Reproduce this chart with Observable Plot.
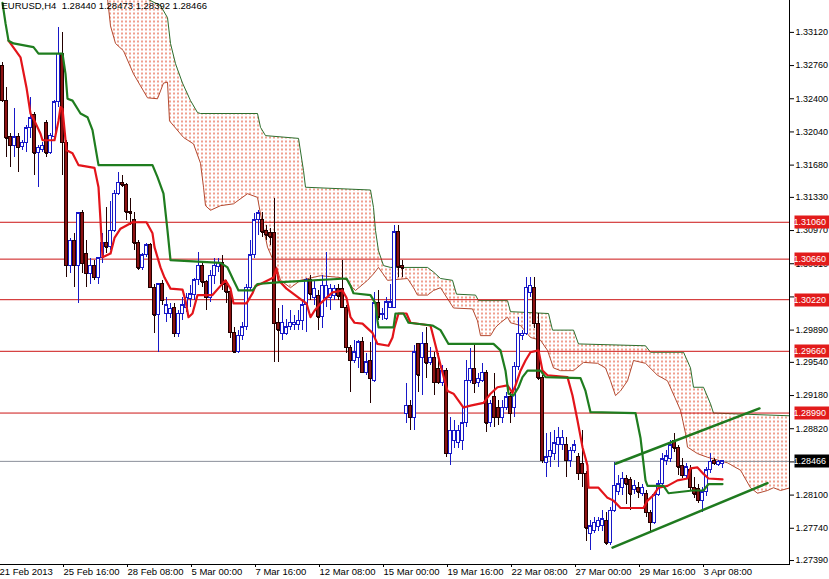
<!DOCTYPE html>
<html><head><meta charset="utf-8">
<script src="https://cdn.jsdelivr.net/npm/d3@7"></script>
<script src="https://cdn.jsdelivr.net/npm/@observablehq/plot@0.6"></script>
<style>html,body{margin:0;padding:0;background:#fff}svg{display:block}</style>
</head><body><div id="chart"></div>
<script>
// ---- EURUSD H4 OHLC, bars numbered from 1 (4-hour bars, first label "21 Feb 2013" = bar 0)
const open = [
1.3276,1.3238,1.3198,1.3189,1.3198,1.3188,1.3192,1.3208,1.3222,1.3181,
1.3184,1.3214,1.3181,1.3198,1.3236,1.3289,1.3192,1.3059,1.3086,1.3059,
1.3116,1.3072,1.3050,1.3059,1.3046,1.3067,1.3083,1.3079,1.3097,1.3137,
1.3149,1.3146,1.3117,1.3108,1.3083,1.3056,1.3070,1.3081,1.3035,1.3005,
1.3039,1.3007,1.3007,1.3013,1.2985,1.3007,1.3013,1.3023,1.3027,1.3043,
1.3059,1.3041,1.3024,1.3048,1.3057,1.3062,1.3039,1.3030,1.2986,1.2965,
1.2983,1.2992,1.3035,1.3070,1.3108,1.3108,1.3097,1.3094,1.3094,1.2997,
1.2985,1.2985,1.2992,1.2994,1.2994,1.2999,1.3016,1.3043,1.3024,1.3026,
1.3003,1.3024,1.3024,1.3026,1.3034,1.3034,1.3013,1.2970,1.2956,1.2959,
1.2976,1.2943,1.2956,1.2934,1.3018,1.3005,1.3001,1.3013,1.3013,1.3095,
1.3059,1.2898,1.2907,1.2894,1.2974,1.2959,1.2974,1.2953,1.2959,1.2947,
1.2932,1.2945,1.2855,1.2869,1.2867,1.2869,1.2888,1.2934,1.2947,1.2932,
1.2934,1.2943,1.2888,1.2916,1.2905,1.2894,1.2904,1.2916,1.2904,1.2949,
1.2983,1.2985,1.3029,1.3035,1.2996,1.2937,1.2845,1.2851,1.2855,1.2864,
1.2864,1.2864,1.2847,1.2858,1.2851,1.2844,1.2833,1.2768,1.2771,1.2775,
1.2776,1.2782,1.2758,1.2793,1.2813,1.2818,1.2828,1.2826,1.2815,1.2818,
1.2811,1.2811,1.2791,1.2780,1.2810,1.2822,1.2847,1.2849,1.2869,1.2861,
1.2842,1.2831,1.2837,1.2818,1.2817,1.2804,1.2813,1.2837,1.2847,1.2843,
1.28440];
const high = [
1.3279,1.3252,1.3202,1.3229,1.3202,1.3195,1.3211,1.3241,1.3225,1.3189,
1.3192,1.3216,1.3202,1.3238,1.3317,1.3312,1.3195,1.3088,1.3094,1.3117,
1.3119,1.3086,1.3067,1.3065,1.3068,1.3094,1.3122,1.3128,1.3141,1.3160,
1.3157,1.3148,1.3132,1.3117,1.3086,1.3072,1.3083,1.3083,1.3039,1.3040,
1.3043,1.3024,1.3018,1.3018,1.3010,1.3024,1.3029,1.3037,1.3045,1.3073,
1.3062,1.3043,1.3054,1.3067,1.3067,1.3070,1.3043,1.3034,1.2992,1.2989,
1.2997,1.3039,1.3086,1.3116,1.3119,1.3117,1.3102,1.3099,1.3132,1.3012,
1.3016,1.3001,1.3010,1.3005,1.3010,1.3021,1.3045,1.3048,1.3043,1.3032,
1.3048,1.3073,1.3039,1.3037,1.3039,1.3065,1.3016,1.2972,1.2978,1.2978,
1.2981,1.2964,1.2976,1.3030,1.3032,1.3012,1.3024,1.3039,1.3102,1.3102,
1.3065,1.2931,1.2913,1.2972,1.2974,1.2986,1.2992,1.2970,1.2965,1.2964,
1.2951,1.2947,1.2894,1.2891,1.2886,1.2907,1.2956,1.2969,1.2972,1.2942,
1.2953,1.2945,1.2913,1.2942,1.2913,1.2913,1.2921,1.2921,1.2954,1.3003,
1.2989,1.3046,1.3046,1.3046,1.3007,1.2940,1.2877,1.2878,1.2880,1.2883,
1.2880,1.2872,1.2862,1.2869,1.2855,1.2880,1.2836,1.2782,1.2786,1.2786,
1.2793,1.2791,1.2796,1.2845,1.2831,1.2835,1.2831,1.2829,1.2826,1.2824,
1.2822,1.2815,1.2793,1.2813,1.2826,1.2855,1.2858,1.2869,1.2877,1.2864,
1.2850,1.2844,1.2842,1.2829,1.2822,1.2818,1.2840,1.2855,1.2850,1.2848,
1.28473];
const low = [
1.3236,1.3176,1.3165,1.3176,1.3160,1.3184,1.3182,1.3197,1.3157,1.3144,
1.3182,1.3176,1.3179,1.3197,1.3230,1.3157,1.3046,1.3050,1.3035,1.3018,
1.3050,1.3035,1.3039,1.3043,1.3039,1.3061,1.3072,1.3075,1.3095,1.3135,
1.3144,1.3108,1.3102,1.3075,1.3054,1.3054,1.3068,1.3034,1.2985,1.2965,
1.3016,1.2997,1.3002,1.2981,1.2981,1.2999,1.3008,1.3013,1.3021,1.3037,
1.3035,1.3010,1.3019,1.3039,1.3052,1.3032,1.3018,1.2980,1.2964,1.2964,
1.2978,1.2989,1.3032,1.3067,1.3092,1.3090,1.3086,1.3081,1.2954,1.2954,
1.2978,1.2983,1.2989,1.2989,1.2989,1.2989,1.2986,1.3021,1.3016,1.2989,
1.2991,1.3013,1.3010,1.3021,1.3021,1.3012,1.2964,1.2921,1.2953,1.2947,
1.2942,1.2940,1.2909,1.2932,1.2999,1.2999,1.2999,1.3012,1.3012,1.3046,
1.3046,1.2888,1.2880,1.2880,1.2921,1.2918,1.2937,1.2951,1.2918,1.2930,
1.2928,1.2851,1.2842,1.2861,1.2861,1.2858,1.2883,1.2931,1.2920,1.2927,
1.2932,1.2878,1.2883,1.2883,1.2886,1.2888,1.2902,1.2888,1.2894,1.2945,
1.2978,1.2983,1.3024,1.2991,1.2934,1.2844,1.2829,1.2840,1.2847,1.2840,
1.2858,1.2829,1.2840,1.2855,1.2826,1.2818,1.2760,1.2750,1.2768,1.2771,
1.2771,1.2755,1.2755,1.2791,1.2810,1.2810,1.2800,1.2793,1.2811,1.2806,
1.2808,1.2786,1.2771,1.2778,1.2808,1.2818,1.2842,1.2845,1.2856,1.2831,
1.2828,1.2828,1.2815,1.2806,1.2801,1.2791,1.2808,1.2833,1.2842,1.2841,
1.28392];
const close = [
1.3238,1.3197,1.3189,1.3198,1.3187,1.3192,1.3208,1.3219,1.3181,1.3187,
1.3189,1.3181,1.3200,1.3236,1.3289,1.3192,1.3059,1.3086,1.3059,1.3116,
1.3061,1.3050,1.3059,1.3046,1.3067,1.3083,1.3079,1.3097,1.3137,1.3149,
1.3146,1.3117,1.3116,1.3083,1.3056,1.3070,1.3081,1.3035,1.3005,1.3039,
1.3021,1.3016,1.3012,1.2985,1.3007,1.3016,1.3024,1.3028,1.3043,1.3059,
1.3041,1.3024,1.3048,1.3059,1.3062,1.3039,1.3030,1.2986,1.2965,1.2983,
1.2992,1.3035,1.3070,1.3108,1.3116,1.3095,1.3092,1.3090,1.2996,1.2989,
1.2997,1.2992,1.2997,1.2997,1.2999,1.3016,1.3043,1.3028,1.3034,1.3003,
1.3037,1.3037,1.3034,1.3034,1.3026,1.3013,1.2970,1.2956,1.2965,1.2976,
1.2943,1.2954,1.2936,1.3018,1.3003,1.3007,1.3019,1.3019,1.3095,1.3057,
1.3056,1.2907,1.2894,1.2965,1.2940,1.2974,1.2953,1.2959,1.2932,1.2932,
1.2945,1.2855,1.2880,1.2880,1.2880,1.2888,1.2934,1.2947,1.2931,1.2936,
1.2943,1.2888,1.2909,1.2894,1.2894,1.2905,1.2916,1.2898,1.2949,1.2985,
1.2985,1.3035,1.3037,1.2996,1.2937,1.2847,1.2851,1.2858,1.2866,1.2872,
1.2872,1.2847,1.2858,1.2864,1.2833,1.2833,1.2774,1.2776,1.2780,1.2782,
1.2784,1.2758,1.2793,1.2820,1.2822,1.2828,1.2822,1.2811,1.2820,1.2813,
1.2818,1.2791,1.2780,1.2810,1.2822,1.2849,1.2852,1.2864,1.2861,1.2840,
1.2831,1.2840,1.2818,1.2811,1.2804,1.2813,1.2837,1.2846,1.2844,1.2846,
1.28466];

// ---- Ichimoku lines (bar, price)
const tenkanBar = [2.5,3,5.5,7,8,9,10.5,11,14,15,15.5,16,17,18.5,20,24,25,25.5,26,28,29,30.5,33.5,37,38.5,39,40.5,41.5,43,46,46.75,47.5,48.5,49.75,53.5,55.5,56.75,58,58.75,62,63.5,64.25,65.5,68.75,69.5,70,72,76,77,78,79,80.5,82,83.5,86,87,88,89,91,92,93.5,94.75,97.5,98.5,99,100,102,103,108,110.5,112.25,113.75,116.25,118,121.25,123,124.75,127.25,128.5,129.25,130.5,131.75,133,135,135.5,136,137.25,142.25,143.5,144.75,146,147.25,147.5,150,152.25,153.75,155.5,161.25,162.25,163.75,165,167.25,169.75,172.25,173,174.75,176.25,177.5,181];
const tenkanVal = [1.3303,1.3300,1.3285,1.3252,1.3224,1.3216,1.3202,1.3195,1.3195,1.3216,1.3231,1.3229,1.3184,1.3181,1.3168,1.3165,1.3144,1.3108,1.3068,1.3072,1.3089,1.3099,1.3106,1.3106,1.3094,1.3079,1.3057,1.3046,1.3034,1.3033,1.3021,1.3003,1.3007,1.3027,1.3027,1.3037,1.3043,1.3034,1.3018,1.3018,1.3029,1.3037,1.3039,1.3046,1.3056,1.3043,1.3034,1.3021,1.3018,1.3003,1.3010,1.3018,1.3024,1.3030,1.3032,1.3024,1.3003,1.2997,1.2996,1.2992,1.2986,1.2974,1.2972,1.2981,1.2992,1.3007,1.3007,1.2997,1.2994,1.2951,1.2923,1.2920,1.2905,1.2907,1.2910,1.2920,1.2927,1.2929,1.2921,1.2929,1.2945,1.2956,1.2965,1.2967,1.2956,1.2945,1.2940,1.2938,1.2918,1.2891,1.2862,1.2842,1.2818,1.2818,1.2807,1.2804,1.2796,1.2796,1.2804,1.2810,1.2818,1.2820,1.2826,1.2828,1.2839,1.2840,1.2833,1.2828,1.2827];
const kijunBar = [1,1.75,2.5,3.75,8.75,10,16,16.75,17.25,18.5,20.5,22.25,23.5,25,38.5,39.75,41.25,42.25,43,55.5,57.25,58.75,60,63.5,64.75,70.5,87,88,88.75,93,94.25,94.75,95,98.75,99.25,101.25,102.5,108.5,110.5,112.5,123.75,125.5,126.75,127.5,128.75,130,131,132.25,135.5,136.75,145.5,146.75,148,159.25,160.5,161.75,162.25,166.25,167.5,173.5,176.25,177.5,181];
const kijunVal = [1.3344,1.3322,1.3303,1.3300,1.3296,1.3289,1.3289,1.3267,1.3240,1.3238,1.3224,1.3220,1.3206,1.3168,1.3168,1.3155,1.3137,1.3097,1.3065,1.3062,1.3057,1.3043,1.3032,1.3032,1.3039,1.3041,1.3045,1.3037,1.3029,1.3027,1.3018,1.2999,1.2992,1.2992,1.3007,1.3007,1.2997,1.2994,1.2989,1.2974,1.2974,1.2967,1.2945,1.2920,1.2918,1.2927,1.2938,1.2945,1.2945,1.2938,1.2937,1.2923,1.2900,1.2899,1.2872,1.2826,1.2820,1.2820,1.2812,1.2815,1.2815,1.2822,1.2822];

// ---- Cloud edges (bar, price)
const spanTopBar = [25.5,35.5,40.5,42.25,43,44.25,46,48,49.75,50.5,64.75,65.5,66.75,75,76.25,76.75,93,93.75,94.25,95,96.25,98,107.25,108.75,110.5,113.5,114.5,119.25,120,127.25,128,137.5,138.5,143.75,145,161.75,163,171.25,173,173.75,176.25,178,178.75,198];
const spanTopVal = [1.3379,1.3352,1.3341,1.3328,1.3300,1.3278,1.3257,1.3238,1.3225,1.3224,1.3224,1.3209,1.3200,1.3197,1.3162,1.3144,1.3141,1.3122,1.3097,1.3075,1.3059,1.3057,1.3057,1.3052,1.3045,1.3043,1.3028,1.3027,1.3021,1.3021,1.3009,1.3007,1.2989,1.2989,1.2974,1.2972,1.2965,1.2965,1.2948,1.2927,1.2927,1.2909,1.2899,1.2896];
const spanBotBar = [25.5,27.25,28,29.25,31.25,33.75,35.5,37.25,39.75,41.25,42.25,42.75,46.25,48.75,50.5,51.25,51.75,53,55.5,58.75,62.25,64.75,65.5,67.25,69.75,70.5,73,75.5,80.5,85.5,87.25,88.5,89.25,92.25,93.75,95,97.25,102.25,103.75,104.75,107.25,108.75,110.5,113.75,118.5,119.75,120.5,123,124.25,125.5,127.25,128,130.5,133,135.5,137.25,138.75,140.5,143.75,146.25,149.75,151.75,153,154.25,155.5,157.25,158.75,161.75,164.75,167.25,170.5,171.75,172.25,174.75,177.25,182.25,185.5,188,189.75,192.25,193.75,195.5,198];
const spanBotVal = [1.3390,1.3349,1.3319,1.3300,1.3292,1.3267,1.3254,1.3241,1.3240,1.3257,1.3258,1.3216,1.3198,1.3191,1.3170,1.3144,1.3124,1.3119,1.3124,1.3126,1.3137,1.3133,1.3115,1.3079,1.3054,1.3043,1.3035,1.3043,1.3048,1.3046,1.3043,1.3035,1.3032,1.3043,1.3050,1.3057,1.3043,1.3045,1.3035,1.3027,1.3027,1.3032,1.3035,1.3013,1.3012,1.2999,1.2983,1.2983,1.2992,1.2997,1.3003,1.2997,1.2994,1.2981,1.2978,1.2967,1.2948,1.2945,1.2945,1.2954,1.2953,1.2948,1.2934,1.2918,1.2923,1.2934,1.2956,1.2953,1.2940,1.2934,1.2902,1.2877,1.2862,1.2855,1.2851,1.2845,1.2837,1.2818,1.2812,1.2815,1.2818,1.2815,1.2818];

// ---- Trend lines (channel)
const trendUpperBar = [154.25, 190.25], trendUpperVal = [1.2844, 1.2904];
const trendLowerBar = [153.5, 192.25],  trendLowerVal = [1.2753, 1.2823];

// ---- Levels, ticks, labels
const levels = [1.31060, 1.30660, 1.30220, 1.29660, 1.28990];
const currentPrice = 1.28466;
const yTicks = [1.33120,1.32760,1.32400,1.32040,1.31680,1.31330,1.30970,1.30610,1.30250,1.29890,1.29540,1.29180,1.28820,1.28460,1.28100,1.27740,1.27390];
const xTickBars = [0,16,32,48,64,80,96,112,128,144,160,176];
const xTickLabels = ["21 Feb 2013","25 Feb 16:00","28 Feb 08:00","5 Mar 00:00","7 Mar 16:00","12 Mar 08:00","15 Mar 00:00","19 Mar 16:00","22 Mar 08:00","27 Mar 00:00","29 Mar 16:00","3 Apr 08:00"];
const titleText = "EURUSD,H4\u00a0 1.28440 1.28473 1.28392 1.28466";

// ---- build tables
const bars = open.map((o, k) => ({i: k + 1, o, h: high[k], l: low[k], c: close[k]}));
const up = d => d.c >= d.o;
const pairs = (bs, vs) => bs.map((b, k) => ({b, v: vs[k]}));
const tenkan = pairs(tenkanBar, tenkanVal);
const kijun = pairs(kijunBar, kijunVal);
const spanTop = pairs(spanTopBar, spanTopVal);
const spanBot = pairs(spanBotBar, spanBotVal);
const cloudPoly = [...spanTop, ...spanBot.slice().reverse()];
const trendU = pairs(trendUpperBar, trendUpperVal);
const trendL = pairs(trendLowerBar, trendLowerVal);
const labelOf = new Map(xTickBars.map((b, k) => [b, xTickLabels[k]]));
const fmt = d3.format(".5f");

function boxed(fill) {
  return (index, scales, values, dims, context, next) => {
    const g = next(index, scales, values, dims, context);
    const x0 = dims.width - dims.marginRight;
    const ns = "http://www.w3.org/2000/svg";
    for (const i of index) {
      const r = document.createElementNS(ns, "rect");
      r.setAttribute("x", x0 + 1);
      r.setAttribute("width", dims.marginRight - 1);
      r.setAttribute("y", Math.round(values.y[i] - 6.5));
      r.setAttribute("height", 13);
      r.setAttribute("fill", fill);
      g.insertBefore(r, g.firstChild);
    }
    return g;
  };
}

const BULL = "#1818c8", BEAR_FILL = "#8c1212", BEAR_LINE = "#220000";
const font = "Liberation Sans, Arial, sans-serif";

const svg = Plot.plot({
  width: 829, height: 579,
  marginLeft: 0, marginRight: 40, marginTop: 0, marginBottom: 15,
  style: {fontFamily: font, fontSize: "9px", background: "#ffffff", color: "#000"},
  color: {type: "identity"},
  x: {type: "linear", domain: [0.5, 197.75], axis: null},
  y: {type: "linear", domain: [1.27347, 1.33466], axis: null},
  marks: [
    Plot.line(cloudPoly, {x: "b", y: "v", fill: "url(#kumo)", stroke: "none", clip: true}),
    Plot.line(spanBot, {x: "b", y: "v", stroke: "#b44a30", strokeWidth: 1, clip: true}),
    Plot.line(spanTop, {x: "b", y: "v", stroke: "#2d6e2d", strokeWidth: 1, clip: true}),
    Plot.ruleY(levels, {stroke: "#cc1414", strokeWidth: 1}),
    Plot.ruleY([currentPrice], {stroke: "#8a8f99", strokeWidth: 1}),
    Plot.ruleX(bars, {x: "i", y1: "l", y2: "h", stroke: d => up(d) ? BULL : BEAR_LINE, strokeWidth: 1, shapeRendering: "crispEdges"}),
    Plot.rect(bars, {x1: d => d.i - 0.375, x2: d => d.i + 0.375, y1: "o", y2: "c",
      fill: d => up(d) ? "#ffffff" : BEAR_FILL, stroke: d => up(d) ? BULL : BEAR_LINE, strokeWidth: 1, shapeRendering: "crispEdges"}),
    Plot.ruleY(bars, {y: "c", x1: d => d.i - 0.375, x2: d => d.i + 0.375, stroke: d => up(d) ? BULL : BEAR_LINE, strokeWidth: 1, shapeRendering: "crispEdges"}),
    Plot.line(tenkan, {x: "b", y: "v", stroke: "#e3141a", strokeWidth: 2.2, clip: true}),
    Plot.line(kijun, {x: "b", y: "v", stroke: "#1f7d1f", strokeWidth: 2.2, clip: true}),
    Plot.line(trendU, {x: "b", y: "v", stroke: "#1f7a1f", strokeWidth: 2.5}),
    Plot.line(trendL, {x: "b", y: "v", stroke: "#1f7a1f", strokeWidth: 2.5}),
    Plot.frame({anchor: "bottom", stroke: "#000"}),
    Plot.frame({anchor: "right", stroke: "#000"}),
    Plot.axisY({anchor: "right", ticks: yTicks, tickFormat: fmt, tickSize: 4, tickPadding: 2, fontSize: 9, label: null}),
    Plot.axisX({anchor: "bottom", ticks: xTickBars, tickFormat: d => labelOf.get(d), tickSize: 3, tickPadding: 1, textAnchor: "start", dx: 1, fontSize: 9.5, label: null}),
    Plot.text(levels, {y: d => d, text: d => fmt(d), frameAnchor: "right", textAnchor: "start", dx: 4, fill: "#ffffff", fontSize: 9, render: boxed("#e21b1b")}),
    Plot.text([currentPrice], {y: d => d, text: d => fmt(d), frameAnchor: "right", textAnchor: "start", dx: 4, fill: "#ffffff", fontSize: 9, render: boxed("#000000")}),
    Plot.text([titleText], {text: d => d, frameAnchor: "top-left", textAnchor: "start", lineAnchor: "top", dx: 1, dy: 2, fontSize: 9.5, fill: "#000"})
  ]
});

// dotted cloud pattern (red dashes on white)
const ns = "http://www.w3.org/2000/svg";
const defs = document.createElementNS(ns, "defs");
const pat = document.createElementNS(ns, "pattern");
pat.setAttribute("id", "kumo"); pat.setAttribute("patternUnits", "userSpaceOnUse");
pat.setAttribute("width", "4"); pat.setAttribute("height", "4");
const bg = document.createElementNS(ns, "rect");
bg.setAttribute("width", "4"); bg.setAttribute("height", "4"); bg.setAttribute("fill", "#ffffff");
const dot = document.createElementNS(ns, "rect");
dot.setAttribute("x", "1"); dot.setAttribute("y", "0"); dot.setAttribute("width", "1"); dot.setAttribute("height", "2"); dot.setAttribute("fill", "#e0401e");
pat.appendChild(bg); pat.appendChild(dot); defs.appendChild(pat);
svg.insertBefore(defs, svg.firstChild);

document.getElementById("chart").appendChild(svg);
</script>
</body></html>
